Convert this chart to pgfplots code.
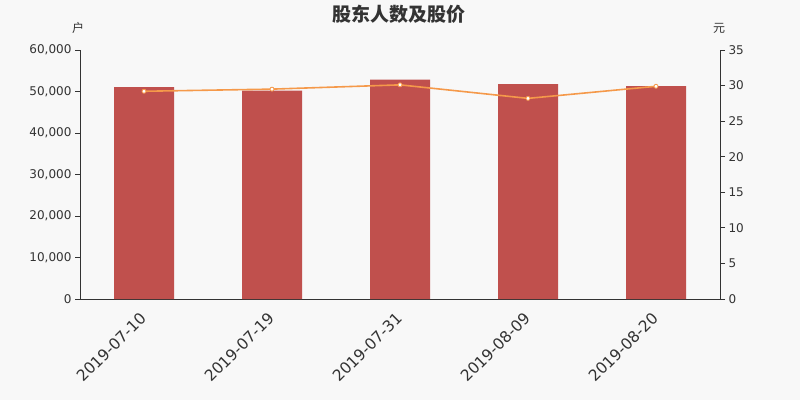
\documentclass[border=0pt]{standalone}
\usepackage{fontspec}
\setmainfont{DejaVu Sans}
\newfontfamily\cjk{Noto Sans CJK SC}
\usepackage{pgfplots}
\pgfplotsset{compat=1.18}

\definecolor{bgc}{HTML}{F8F8F8}
\definecolor{barred}{HTML}{C0504D}
\definecolor{lineorange}{HTML}{F5994A}
\definecolor{txt}{HTML}{333333}

\begin{document}
\begin{tikzpicture}
\fill[bgc] (0pt,0pt) rectangle (800pt,400pt);
\path[use as bounding box] (0pt,0pt) rectangle (800pt,400pt);

% title and unit labels
\node[font=\cjk\bfseries\fontsize{19}{22}\selectfont, text=txt] at (399pt,386pt) {股东人数及股价};
\node[font=\cjk\fontsize{12}{14}\selectfont, text=txt] at (78pt,372pt) {户};
\node[font=\cjk\fontsize{12}{14}\selectfont, text=txt] at (719pt,372pt) {元};

% left axis: number of holders (bars)
\begin{axis}[
    at={(80pt,101pt)}, anchor=south west,
    scale only axis, width=640pt, height=249pt,
    xmin=-0.5, xmax=4.5,
    ymin=0, ymax=60000,
    ytick={0,10000,...,60000},
    axis x line*=bottom, axis y line*=left,
    axis line style={txt, line width=0.8pt, -},
    xtick={0,1,2,3,4},
    xticklabels={2019-07-10,2019-07-19,2019-07-31,2019-08-09,2019-08-20},
    x tick label style={rotate=45, anchor=north east, font=\fontsize{15.5}{17}\selectfont, text=txt, xshift=-5pt, yshift=2pt},
    major x tick style={draw=none},
    extra x ticks={-0.5,0.5,1.5,2.5,3.5,4.5},
    extra x tick labels={},
    extra x tick style={tick style={txt, line width=0.8pt}, major tick length=5pt},
    y tick label style={font=\fontsize{12}{14}\selectfont, text=txt},
    ytick style={txt, line width=0.8pt},
    tick align=outside, major tick length=5pt,
    scaled y ticks=false,
    yticklabel={\pgfmathprintnumber[1000 sep={,}, assume math mode=true]{\tick}},
    clip=false,
]
\addplot[ybar, bar width=60pt, fill=barred, draw=none] coordinates {
    (0,51050) (1,50200) (2,52850) (3,51800) (4,51300)
};
\end{axis}

% right axis: share price (line)
\begin{axis}[
    at={(80pt,101pt)}, anchor=south west,
    scale only axis, width=640pt, height=249pt,
    xmin=-0.5, xmax=4.5,
    ymin=0, ymax=35,
    ytick={0,5,...,35},
    axis x line=none, axis y line*=right,
    axis line style={txt, line width=0.8pt, -},
    y tick label style={font=\fontsize{12}{14}\selectfont, text=txt},
    ytick style={txt, line width=0.8pt},
    tick align=outside, major tick length=5pt,
    yticklabel={\pgfmathprintnumber[assume math mode=true]{\tick}},
    clip=false,
]
\addplot[lineorange, line width=1.6pt, mark=*, mark size=2pt,
    mark options={fill=white, draw=lineorange, line width=0.8pt}] coordinates {
    (0,29.2) (1,29.5) (2,30.1) (3,28.2) (4,29.9)
};
\end{axis}
\end{tikzpicture}
\end{document}
